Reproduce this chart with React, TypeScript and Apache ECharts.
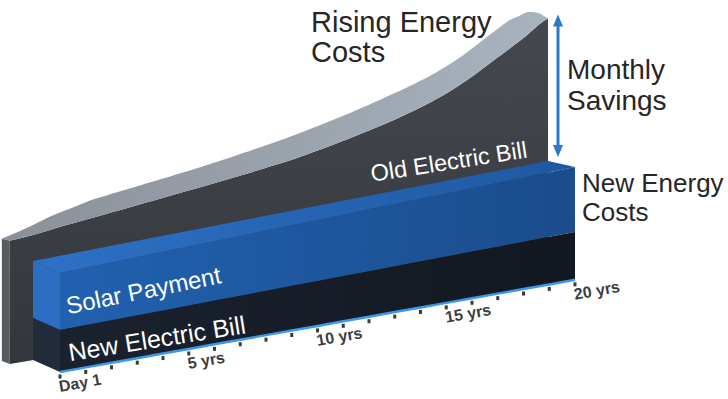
import { useEffect, useRef } from 'react';
import * as echarts from 'echarts';

// ---- data (values are in "pixel-height" units at the left end) ----
const years = [0, 1, 2, 3, 4, 5, 6, 7, 8, 9, 10, 11, 12, 13, 14, 15, 16, 17, 18, 19, 20];
const oldElectricBill = [125, 127.5, 129.5, 131.5, 133.5, 135.5, 137.5, 139.5, 141.5, 144, 146.5, 150, 154, 158.5, 163.5, 169.5, 177, 187, 199, 211, 224];
const newElectricBill = [42, 42, 42, 42, 42, 42, 42, 42, 42, 42, 42, 42, 42, 42, 42, 42, 42, 42, 42, 42, 42];
const solarPayment = [57, 57, 57, 57, 57, 57, 57, 57, 57, 57, 57, 57, 57, 57, 57, 57, 57, 57, 57, 57, 57];
const tickYears = [0, 5, 10, 15, 20];
const tickLabels = ['Day 1', '5 yrs', '10 yrs', '15 yrs', '20 yrs'];
const oldBillLeadValue = 124;

// ---- layout / projection constants ----
const GREY_START = -0.9;
const SLOPE = 0.179;
const PERSP = 0.14;
const DEPTH_DX = 27;
const DEPTH_DY_L = 12;
const DEPTH_DY_R = 6;
const GREY_DX = 8;
const CAP_T = [-0.9, 1, 2.6, 6.5, 10.4, 14.25, 16.85, 18.8, 19.5, 20];
const CAP_V = [2, 11, 16, 17.5, 21, 23, 22, 23, 16, 5];
const FONT = '"Liberation Sans", Arial, Helvetica, sans-serif';

function lerpKnots(t: number, ks: number[], vs: number[]) {
  if (t <= ks[0]) return vs[0];
  for (let i = 0; i < ks.length - 1; i++) {
    if (t <= ks[i + 1]) {
      const f = (t - ks[i]) / (ks[i + 1] - ks[i]);
      return vs[i] + (vs[i + 1] - vs[i]) * f;
    }
  }
  return vs[vs.length - 1];
}

function sampleOldBill(): [number, number][] {
  const kt = [GREY_START, ...years];
  const kv = [oldBillLeadValue, ...oldElectricBill];
  const n = kt.length;
  const out: [number, number][] = [];
  for (let i = 0; i < n - 1; i++) {
    const p0 = kv[Math.max(0, i - 1)], p1 = kv[i], p2 = kv[i + 1], p3 = kv[Math.min(n - 1, i + 2)];
    const steps = 6;
    for (let s = 0; s < steps; s++) {
      const u = s / steps, u2 = u * u, u3 = u2 * u;
      const v = 0.5 * (2 * p1 + (-p0 + p2) * u + (2 * p0 - 5 * p1 + 4 * p2 - p3) * u2 + (-p0 + 3 * p1 - 3 * p2 + p3) * u3);
      out.push([kt[i] + (kt[i + 1] - kt[i]) * u, v]);
    }
  }
  out.push([kt[n - 1], kv[n - 1]]);
  return out;
}

function rotText(text: string, x: number, y: number, deg: number, fs: number, color: string, weight: string) {
  return {
    type: 'group',
    x,
    y,
    rotation: (deg * Math.PI) / 180,
    children: [
      {
        type: 'text',
        style: {
          text,
          x: 0,
          y: -0.3465 * fs,
          fill: color,
          fontSize: fs,
          fontFamily: FONT,
          fontWeight: weight,
          align: 'left',
          verticalAlign: 'middle',
          textAlign: 'left',
          textVerticalAlign: 'middle',
        },
      },
    ],
  };
}

function renderAll(params: any, api: any) {
  if (params.dataIndex !== 0) return null;
  const x0 = api.coord([years[0], 0])[0];
  const w = api.coord([years[years.length - 1], 0])[0] - x0;
  const proj = (t: number, v: number, d: number): number[] => {
    const p0 = api.coord([t, 0]);
    const p1 = api.coord([t, v]);
    const X = p0[0];
    const u = (X - x0) / w;
    const h = p0[1] - p1[1];
    const x = X - d * DEPTH_DX;
    const y = p0[1] - SLOPE * (X - x0) - h * (1 + PERSP * u) - d * (DEPTH_DY_L + (DEPTH_DY_R - DEPTH_DY_L) * u);
    return [x, y];
  };
  const lg = (x1: number, y1: number, x2: number, y2: number, c1: string, c2: string) =>
    new echarts.graphic.LinearGradient(x1, y1, x2, y2, [{ offset: 0, color: c1 }, { offset: 1, color: c2 }]);

  const children: any[] = [];
  const n = years.length;
  const last = years[n - 1];

  // ---- grey "old electric bill" ribbon ----
  const curve = sampleOldBill();
  const front = curve.map(([t, v]) => proj(t, v, 1));
  const greyFront = [...front, proj(last, 0, 1), proj(GREY_START, 0, 1)];
  children.push({ type: 'polygon', shape: { points: greyFront }, style: { fill: lg(0, 0, 0, 1, '#45484e', '#33363b') } });
  const back = curve.map(([t], i) => [front[i][0] - GREY_DX, front[i][1] - lerpKnots(t, CAP_T, CAP_V)]);
  children.push({ type: 'polygon', shape: { points: [...front, ...back.slice().reverse()] }, style: { fill: lg(0, 0, 1, 0, '#8a9098', '#a9b3be') } });
  const bl = proj(GREY_START, 0, 1);
  children.push({
    type: 'polygon',
    shape: { points: [front[0], back[0], [bl[0] - GREY_DX, bl[1] - 3], bl] },
    style: { fill: '#575b60' },
  });

  // ---- blue / navy blocks ----
  const nbTop = years.map((t, i) => proj(t, newElectricBill[i], 0));
  const totTop = years.map((t, i) => proj(t, newElectricBill[i] + solarPayment[i], 0));
  const totBack = years.map((t, i) => proj(t, newElectricBill[i] + solarPayment[i], 1));
  const base = years.map((t) => proj(t, 0, 0));

  children.push({ type: 'polygon', shape: { points: [...totTop, ...totBack.slice().reverse()] }, style: { fill: lg(0, 0, 1, 0, '#2d71c6', '#1f58a0') } });
  children.push({
    type: 'polygon',
    shape: { points: [proj(0, newElectricBill[0], 0), proj(0, newElectricBill[0] + solarPayment[0], 0), proj(0, newElectricBill[0] + solarPayment[0], 1), proj(0, newElectricBill[0], 1)] },
    style: { fill: '#2b6ec4' },
  });
  children.push({
    type: 'polygon',
    shape: { points: [proj(0, 0, 0), proj(0, newElectricBill[0], 0), proj(0, newElectricBill[0], 1), proj(0, 0, 1)] },
    style: { fill: '#222c3a' },
  });
  children.push({ type: 'polygon', shape: { points: [...nbTop, ...totTop.slice().reverse()] }, style: { fill: lg(0, 0, 1, 0, '#2161b0', '#1b4c8c') } });
  children.push({ type: 'polygon', shape: { points: [...base, ...nbTop.slice().reverse()] }, style: { fill: lg(0, 0, 1, 0, '#1a222e', '#121821') } });

  // baseline, ticks, tick labels
  children.push({ type: 'polyline', shape: { points: base }, style: { stroke: '#3d97ec', lineWidth: 2.5, fill: null } });
  years.forEach((_t, i) => {
    const p = base[i];
    children.push({ type: 'rect', shape: { x: p[0] - 1.5, y: p[1] + 2.5, width: 3, height: 4 }, style: { fill: '#3a3a3a' } });
  });
  tickYears.forEach((t, i) => {
    const p = proj(t, 0, 0);
    children.push(rotText(tickLabels[i], p[0], p[1] + 20, 10, 16, '#3d3d3d', 'bold'));
  });

  // white labels on the blocks
  children.push(rotText('Old Electric Bill', 372, 182, 8.9, 23.5, '#ffffff', 'normal'));
  children.push(rotText('Solar Payment', 68, 314, 11.4, 24, '#ffffff', 'normal'));
  children.push(rotText('New Electric Bill', 70, 361, 9.1, 25, '#ffffff', 'normal'));

  // savings arrow
  const gTop = proj(last, oldElectricBill[n - 1], 1);
  const bTop = totBack[n - 1];
  const ax = gTop[0] + 10;
  const yTop = gTop[1] - 4;
  const yBot = bTop[1] - 4;
  const arrowC = '#2b79cc';
  children.push({ type: 'line', shape: { x1: ax, y1: yTop + 8, x2: ax, y2: yBot - 8 }, style: { stroke: arrowC, lineWidth: 3 } });
  children.push({ type: 'polygon', shape: { points: [[ax, yTop], [ax - 5, yTop + 12], [ax + 5, yTop + 12]] }, style: { fill: arrowC } });
  children.push({ type: 'polygon', shape: { points: [[ax, yBot], [ax - 5, yBot - 12], [ax + 5, yBot - 12]] }, style: { fill: arrowC } });

  return { type: 'group', children };
}

function plainText(text: string, x: number, baseline: number, fs: number) {
  return {
    type: 'text',
    x,
    y: baseline - 0.3465 * fs,
    style: {
      text,
      fill: '#262626',
      fontSize: fs,
      fontFamily: FONT,
      align: 'left',
      verticalAlign: 'middle',
      textAlign: 'left',
      textVerticalAlign: 'middle',
    },
    silent: true,
  };
}

export default function App() {
  const ref = useRef<HTMLDivElement>(null);
  useEffect(() => {
    document.body.style.margin = '0';
    const chart = echarts.init(ref.current!, undefined, { renderer: 'svg' });
    chart.setOption({
      animation: false,
      backgroundColor: '#ffffff',
      grid: { left: 60, right: 153, top: 0, bottom: 27 },
      xAxis: { type: 'value', min: 0, max: 20, show: false },
      yAxis: { type: 'value', min: 0, max: 372, show: false },
      series: [
        {
          type: 'custom',
          coordinateSystem: 'cartesian2d',
          clip: false,
          silent: true,
          renderItem: renderAll,
          encode: { x: 0, y: 1 },
          data: years.map((t, i) => [t, oldElectricBill[i], newElectricBill[i], solarPayment[i]]),
        },
      ],
      graphic: [
        plainText('Rising Energy', 311, 32, 29),
        plainText('Costs', 311, 62, 29),
        plainText('Monthly', 567, 79, 28),
        plainText('Savings', 567, 110, 28),
        plainText('New Energy', 582, 192, 26),
        plainText('Costs', 582, 221, 26),
      ],
    });
    return () => chart.dispose();
  }, []);
  return <div ref={ref} style={{ width: 728, height: 399 }} />;
}
